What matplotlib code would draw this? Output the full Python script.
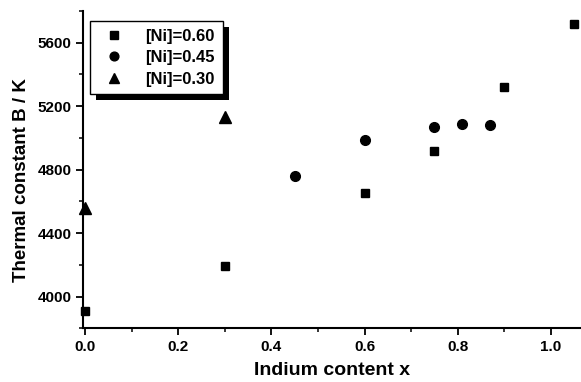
import matplotlib.pyplot as plt
from matplotlib.patches import Rectangle
from matplotlib.ticker import MultipleLocator

plt.rcParams["font.family"] = ["Liberation Sans", "DejaVu Sans"]
plt.rcParams["font.weight"] = "bold"

# [Ni]=0.60
x_ni60 = [0.0, 0.3, 0.6, 0.75, 0.9, 1.05]
b_ni60 = [3910, 4190, 4655, 4917, 5320, 5720]
# [Ni]=0.45
x_ni45 = [0.45, 0.6, 0.75, 0.81, 0.87]
b_ni45 = [4760, 4990, 5070, 5090, 5080]
# [Ni]=0.30
x_ni30 = [0.0, 0.3]
b_ni30 = [4560, 5130]

fig = plt.figure(figsize=(5.81, 3.82), dpi=100)
ax = fig.add_axes([0.1434, 0.1406, 0.8566, 0.8306])

ax.plot(x_ni60, b_ni60, "s", color="black", markersize=6, label="[Ni]=0.60", clip_on=False)
ax.plot(x_ni45, b_ni45, "o", color="black", markersize=7, label="[Ni]=0.45", clip_on=False)
ax.plot(x_ni30, b_ni30, "^", color="black", markersize=8, label="[Ni]=0.30", clip_on=False)

ax.set_xlim(-0.004, 1.065)
ax.set_ylim(3800, 5800)
ax.xaxis.set_major_locator(MultipleLocator(0.2))
ax.xaxis.set_minor_locator(MultipleLocator(0.1))
ax.yaxis.set_major_locator(MultipleLocator(400))
ax.yaxis.set_minor_locator(MultipleLocator(200))
ax.xaxis.set_major_formatter(lambda v, p: "%.1f" % v)

for s in ["top", "right"]:
    ax.spines[s].set_visible(False)
for s in ["left", "bottom"]:
    ax.spines[s].set_linewidth(1.5)
ax.tick_params(which="major", direction="out", length=5, width=1.3, labelsize=11)
ax.tick_params(which="minor", direction="out", length=3, width=1.1)
for lbl in ax.get_xticklabels() + ax.get_yticklabels():
    lbl.set_fontweight("bold")

ax.set_xlabel("Indium content x", fontsize=14, fontweight="bold", labelpad=6)
ax.set_ylabel("Thermal constant B / K", fontsize=13.5, fontweight="bold")
ax.yaxis.set_label_coords(-0.107, 0.467)

leg = ax.legend(loc="upper left", bbox_to_anchor=(0.013, 0.968), frameon=True,
                fancybox=False, edgecolor="black", facecolor="white", framealpha=1,
                fontsize=12, handletextpad=0.9, borderpad=0.45, labelspacing=0.4,
                borderaxespad=0, handlelength=2.0, markerscale=0.9)
leg.get_frame().set_linewidth(1.0)
leg.set_zorder(10)
for t in leg.get_texts():
    t.set_fontweight("bold")

fig.canvas.draw()
bb = leg.get_window_extent()
shadow = Rectangle((bb.x0 + 6, bb.y0 - 6), bb.width, bb.height, transform=None,
                   facecolor="black", edgecolor="none", zorder=5, clip_on=False)
ax.add_artist(shadow)

fig.savefig("out.png", dpi=100)
